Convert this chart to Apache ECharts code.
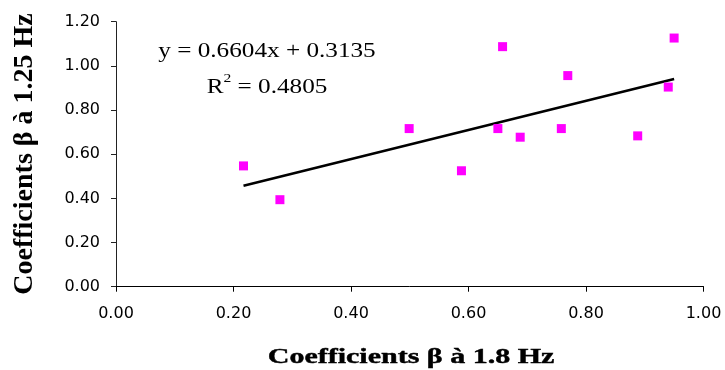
<!DOCTYPE html>
<html>
<head>
<meta charset="utf-8">
<script src="https://cdn.jsdelivr.net/npm/echarts@6/dist/echarts.min.js"></script>
<style>
  html, body { margin: 0; padding: 0; background: #fff; }
  #chart { width: 725px; height: 370px; }
</style>
</head>
<body>
<div id="chart"></div>
<script>
// β coefficients at 1.8 Hz (x) and at 1.25 Hz (y)
const beta18 = [0.217, 0.279, 0.499, 0.588, 0.650, 0.658, 0.688, 0.758, 0.769, 0.888, 0.940, 0.950];
const beta125 = [0.547, 0.394, 0.716, 0.525, 0.716, 1.087, 0.677, 0.716, 0.956, 0.683, 0.904, 1.126];

// Linear trend line
const slope = 0.6604;
const intercept = 0.3135;
const rSquared = 0.4805;

const xTicks = { min: 0, max: 1.0, interval: 0.2 };
const yTicks = { min: 0, max: 1.2, interval: 0.2 };

const xTitle = 'Coefficients β à 1.8 Hz';
const yTitle = 'Coefficients β à 1.25 Hz';

const points = beta18.map((x, i) => [x, beta125[i]]);
const xLo = Math.min(...beta18);
const xHi = Math.max(...beta18);
const trend = [[xLo, slope * xLo + intercept], [xHi, slope * xHi + intercept]];

const serif = '"Liberation Serif", "Times New Roman", serif';
const sans = '"DejaVu Sans", sans-serif';

const chart = echarts.init(document.getElementById('chart'), null, { renderer: 'canvas' });
chart.setOption({
  backgroundColor: '#ffffff',
  animation: false,
  grid: { left: 116, right: 21.5, top: 21.7, bottom: 83.3 },
  xAxis: {
    type: 'value',
    min: xTicks.min, max: xTicks.max, interval: xTicks.interval,
    axisLine: { lineStyle: { color: '#000', width: 1 } },
    axisTick: { show: true, inside: false, length: 5, lineStyle: { color: '#000' } },
    axisLabel: { margin: 19, fontFamily: sans, fontSize: 16, color: '#000',
                 formatter: v => v.toFixed(2) },
    splitLine: { show: false }
  },
  yAxis: {
    type: 'value',
    min: yTicks.min, max: yTicks.max, interval: yTicks.interval,
    axisLine: { show: true, lineStyle: { color: '#222', width: 1 } },
    axisTick: { show: true, inside: false, length: 5, lineStyle: { color: '#222' } },
    axisLabel: { margin: 16, fontFamily: sans, fontSize: 16, color: '#000',
                 formatter: v => v.toFixed(2) },
    splitLine: { show: false }
  },
  series: [
    {
      type: 'line',
      data: trend,
      symbol: 'none',
      lineStyle: { color: '#000', width: 2.6 },
      z: 2
    },
    {
      type: 'scatter',
      data: points,
      symbol: 'rect',
      symbolSize: 9,
      itemStyle: { color: '#ff00ff', opacity: 1 },
      z: 3
    }
  ],
  graphic: [
    {
      type: 'text', x: 267, y: 51.5, scaleX: 1.2,
      style: {
        text: 'y = ' + slope.toFixed(4) + 'x + ' + intercept.toFixed(4),
        font: '21px ' + serif, fill: '#000',
        textAlign: 'center', textVerticalAlign: 'middle'
      }
    },
    {
      type: 'text', x: 267, y: 85, scaleX: 1.2,
      style: {
        text: '{r|R}{s|2}{r| = ' + rSquared.toFixed(4) + '}',
        rich: {
          r: { font: '21px ' + serif, fill: '#000', verticalAlign: 'bottom' },
          s: { font: '13px ' + serif, fill: '#000', verticalAlign: 'top', padding: [0, 0, 12, 0] }
        },
        textAlign: 'center', textVerticalAlign: 'middle'
      }
    },
    {
      type: 'text', x: 411, y: 358, scaleX: 1.5,
      style: {
        text: xTitle, font: 'bold 20px ' + serif, fill: '#000',
        stroke: '#000', lineWidth: 0.4,
        textAlign: 'center', textVerticalAlign: 'middle'
      }
    },
    {
      type: 'text', x: 25, y: 154, rotation: Math.PI / 2,
      style: {
        text: yTitle, font: 'bold 28px ' + serif, fill: '#000',
        textAlign: 'center', textVerticalAlign: 'middle'
      }
    }
  ]
});
</script>
</body>
</html>
